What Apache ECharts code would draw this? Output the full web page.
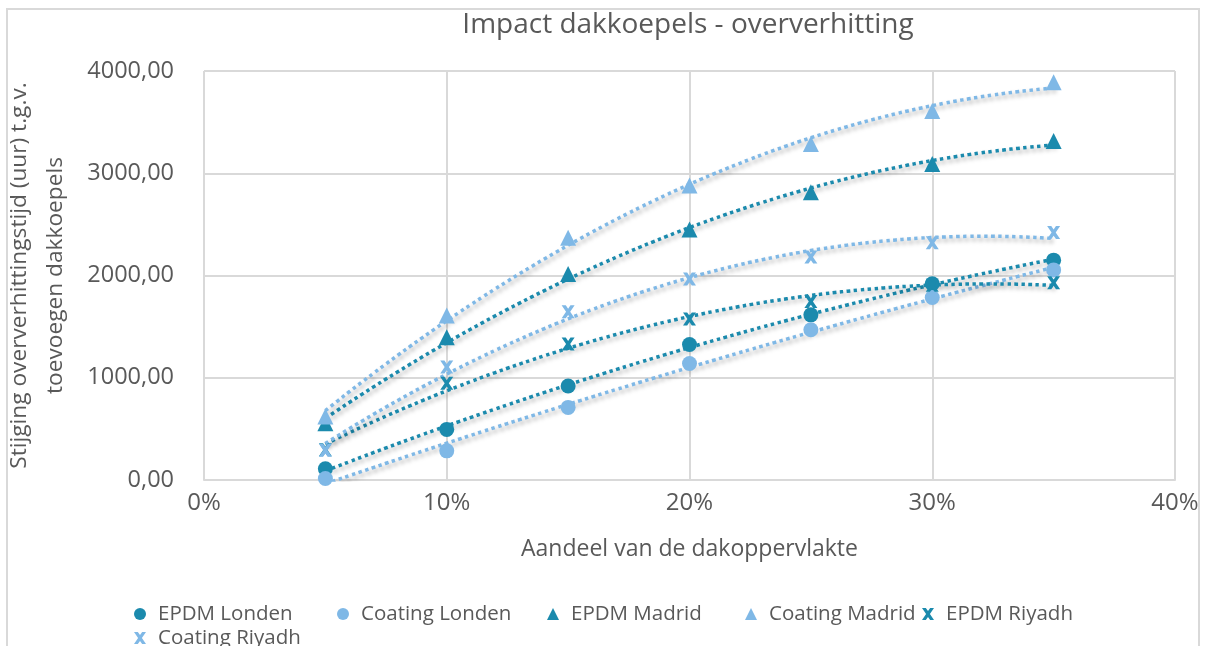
<!DOCTYPE html>
<html>
<head>
<meta charset="utf-8">
<title>Impact dakkoepels - oververhitting</title>
<script src="https://cdn.jsdelivr.net/npm/echarts@6/dist/echarts.min.js"></script>
<style>
  html, body { margin: 0; padding: 0; background: #ffffff; }
  #chart { width: 1207px; height: 646px; }
</style>
</head>
<body>
<div id="chart"></div>
<script>
// Share of roof area covered by roof lights (%)
const percentages = [5, 10, 15, 20, 25, 30, 35];

// Increase in overheating hours per roof type and city
const epdmLonden    = [110, 495, 920, 1325, 1615, 1920, 2150];
const coatingLonden = [15, 285, 710, 1140, 1470, 1785, 2055];
const epdmMadrid    = [555, 1395, 2015, 2450, 2815, 3090, 3315];
const coatingMadrid = [620, 1610, 2370, 2880, 3285, 3610, 3890];
const epdmRiyadh    = [295, 945, 1330, 1575, 1745, 1905, 1930];
const coatingRiyadh = [290, 1105, 1645, 1965, 2180, 2320, 2420];

const seriesNames = ['EPDM Londen', 'Coating Londen', 'EPDM Madrid', 'Coating Madrid', 'EPDM Riyadh', 'Coating Riyadh'];
const seriesValues = [epdmLonden, coatingLonden, epdmMadrid, coatingMadrid, epdmRiyadh, coatingRiyadh];

const DARK = '#1b8aad';
const LIGHT = '#7fb8e6';
const TEXT = '#595959';
const GRID = '#d9d9d9';
const FONT = '"Open Sans", sans-serif';

const CROSS = 'path://M0,0 L3.2,0 L5,2.6 L6.8,0 L10,0 L6.6,5 L10,10 L6.8,10 L5,7.4 L3.2,10 L0,10 L3.4,5 Z';
const symbols = ['circle', 'circle', 'triangle', 'triangle', CROSS, CROSS];
const symbolSizes = [15, 15, 16, 16, 13, 13];
const colors = [DARK, LIGHT, DARK, LIGHT, DARK, LIGHT];

// Legend entry positions: [left edge of icon, top]
const legendSlots = [[134, 602], [337, 602], [547, 602], [745, 602], [922, 602], [134, 626]];

// Second-order polynomial least-squares fit (trendline), returns y = a + b x + c x^2
function quadFit(xs, ys) {
  let s = [0, 0, 0, 0, 0], t = [0, 0, 0];
  for (let i = 0; i < xs.length; i++) {
    const x = xs[i], y = ys[i];
    let p = 1;
    for (let k = 0; k < 5; k++) { s[k] += p; if (k < 3) t[k] += p * y; p *= x; }
  }
  const M = [[s[0], s[1], s[2], t[0]], [s[1], s[2], s[3], t[1]], [s[2], s[3], s[4], t[2]]];
  for (let i = 0; i < 3; i++) {
    for (let j = i + 1; j < 3; j++) {
      const f = M[j][i] / M[i][i];
      for (let k = i; k < 4; k++) M[j][k] -= f * M[i][k];
    }
  }
  const c = [0, 0, 0];
  for (let i = 2; i >= 0; i--) {
    let v = M[i][3];
    for (let k = i + 1; k < 3; k++) v -= M[i][k] * c[k];
    c[i] = v / M[i][i];
  }
  return x => c[0] + c[1] * x + c[2] * x * x;
}

function trendPoints(values) {
  const f = quadFit(percentages, values);
  const pts = [];
  const x0 = percentages[0], x1 = percentages[percentages.length - 1];
  for (let x = x0; x <= x1 + 1e-9; x += 0.5) pts.push([x, f(x)]);
  return pts;
}

const series = [];
seriesValues.forEach((vals, i) => {
  series.push({
    name: seriesNames[i] + ' trend',
    type: 'line',
    data: trendPoints(vals),
    showSymbol: false,
    symbol: 'none',
    smooth: true,
    silent: true,
    z: 2,
    lineStyle: {
      color: colors[i],
      width: 3.5,
      type: [3.5, 3.5],
      cap: 'butt',
      shadowColor: 'rgba(0,0,0,0.35)',
      shadowBlur: 4,
      shadowOffsetX: 2,
      shadowOffsetY: 3
    }
  });
});
seriesValues.forEach((vals, i) => {
  series.push({
    name: seriesNames[i],
    type: 'scatter',
    data: percentages.map((p, j) => [p, vals[j]]),
    symbol: symbols[i],
    symbolSize: symbolSizes[i],
    z: 3,
    itemStyle: { color: colors[i], opacity: 1 }
  });
});

const legends = seriesNames.map((n, i) => ({
  data: [{ name: n, icon: symbols[i] }],
  left: legendSlots[i][0],
  top: legendSlots[i][1],
  padding: 0,
  itemWidth: 12,
  itemHeight: 12,
  textStyle: { fontFamily: FONT, fontSize: 20.5, color: TEXT, padding: [0, 0, 0, 7], lineHeight: 24 }
}));

const chart = echarts.init(document.getElementById('chart'), null, { renderer: 'canvas' });
chart.setOption({
  animation: false,
  backgroundColor: '#ffffff',
  title: {
    text: 'Impact dakkoepels - oververhitting',
    left: 683,
    top: 6,
    textAlign: 'center',
    textStyle: { fontFamily: FONT, fontSize: 28, fontWeight: 'normal', color: TEXT }
  },
  graphic: [{
    type: 'rect',
    shape: { x: 7, y: 9, width: 1192, height: 700 },
    style: { fill: 'none', stroke: GRID, lineWidth: 2 },
    silent: true,
    z: -1
  }],
  legend: legends,
  grid: { left: 204, right: 32, top: 71, bottom: 166, containLabel: false, outerBoundsMode: 'none' },
  xAxis: {
    type: 'value',
    min: 0, max: 40, interval: 10,
    name: 'Aandeel van de dakoppervlakte',
    nameLocation: 'middle',
    nameGap: 58,
    nameTextStyle: { fontFamily: FONT, fontSize: 23, color: TEXT },
    axisLine: { show: true, lineStyle: { color: GRID, width: 2 } },
    axisTick: { show: false },
    axisLabel: { formatter: '{value}%', fontFamily: FONT, fontSize: 24, color: TEXT, margin: 11 },
    splitLine: { show: true, lineStyle: { color: GRID, width: 2 } }
  },
  yAxis: {
    type: 'value',
    min: 0, max: 4000, interval: 1000,
    name: 'Stijging oververhittingstijd (uur) t.g.v.\ntoevoegen dakkoepels',
    nameLocation: 'middle',
    nameGap: 130,
    nameTextStyle: { fontFamily: FONT, fontSize: 22.7, color: TEXT, lineHeight: 36, align: 'center' },
    axisLine: { show: false },
    axisTick: { show: false },
    axisLabel: {
      formatter: v => v.toFixed(2).replace('.', ','),
      fontFamily: FONT, fontSize: 23.5, color: TEXT, margin: 30
    },
    splitLine: { show: true, lineStyle: { color: GRID, width: 2 } }
  },
  series: series
});
</script>
</body>
</html>
